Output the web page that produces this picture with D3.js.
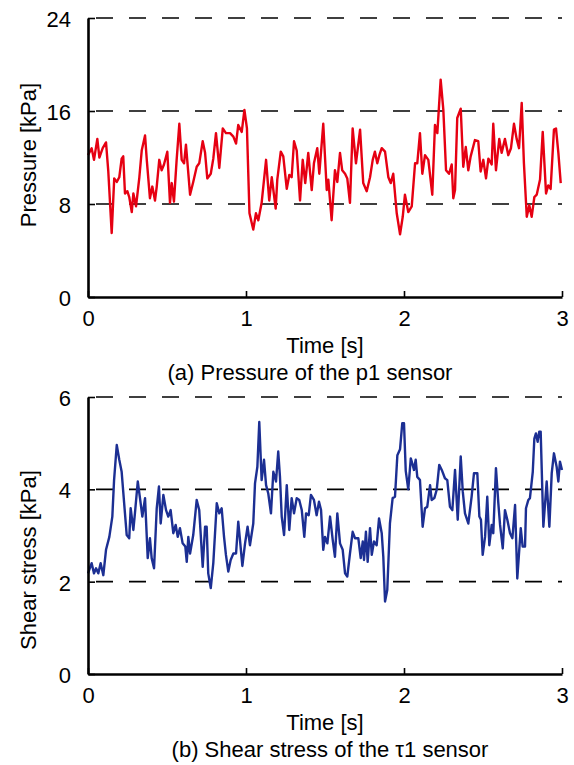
<!DOCTYPE html>
<html>
<head>
<meta charset="utf-8">
<script src="https://cdn.jsdelivr.net/npm/d3@7"></script>
<style>
  html, body { margin: 0; padding: 0; background: #fff; }
  text { font-family: "Liberation Sans", Arial, sans-serif; fill: #000; }
</style>
</head>
<body>
<svg id="chart" width="574" height="765"></svg>
<script>
// ---------- data ----------
const xTicks = [0, 1, 2, 3];
const pressureTicks = [0, 8, 16, 24];
const shearTicks = [0, 2, 4, 6];
const xTitle = "Time [s]";
const pressureTitle = "Pressure [kPa]";
const shearTitle = "Shear stress [kPa]";
const captionA = "(a) Pressure of the p1 sensor";
const captionB = "(b) Shear stress of the \u03c41 sensor";

// p1 pressure time series [s] / [kPa]
const pTime = [0.000,0.023,0.038,0.059,0.072,0.093,0.114,0.128,0.150,0.166,0.182,0.198,0.213,0.223,0.234,0.249,0.261,0.277,0.287,0.304,0.325,0.340,0.361,0.372,0.392,0.407,0.424,0.435,0.451,0.466,0.481,0.502,0.519,0.530,0.544,0.561,0.578,0.593,0.608,0.620,0.646,0.666,0.688,0.704,0.726,0.741,0.755,0.777,0.793,0.810,0.831,0.853,0.873,0.899,0.920,0.937,0.951,0.973,0.990,1.006,1.022,1.046,1.063,1.078,1.099,1.127,1.147,1.163,1.188,1.198,1.220,1.236,1.258,1.274,1.289,1.304,1.321,1.342,1.359,1.375,1.394,1.416,1.430,1.451,1.464,1.489,1.511,1.521,1.542,1.563,1.578,1.595,1.609,1.627,1.641,1.658,1.675,1.696,1.722,1.742,1.764,1.785,1.802,1.816,1.831,1.844,1.859,1.880,1.901,1.916,1.932,1.954,1.975,1.992,2.006,2.027,2.049,2.070,2.084,2.101,2.116,2.133,2.154,2.179,2.196,2.211,2.232,2.249,2.266,2.285,2.302,2.312,2.323,2.337,2.359,2.375,2.391,2.407,2.422,2.449,2.470,2.485,2.502,2.519,2.534,2.555,2.565,2.582,2.603,2.618,2.639,2.660,2.677,2.696,2.713,2.728,2.745,2.759,2.777,2.793,2.808,2.825,2.840,2.861,2.878,2.899,2.913,2.928,2.949,2.962,2.977,2.992];
const pValue = [12.2,12.8,11.8,13.6,12.0,12.8,13.3,10.9,5.5,10.2,9.9,10.3,11.9,12.1,8.9,9.1,8.6,7.3,8.9,7.8,10.3,12.6,13.9,11.8,8.5,9.5,8.3,9.5,11.8,10.9,11.4,12.5,8.1,9.8,8.2,11.8,14.9,11.8,11.5,13.1,8.8,9.9,11.2,11.5,13.4,12.4,10.2,10.6,11.9,14.1,11.1,14.5,14.1,14.1,13.8,13.2,14.8,14.2,16.1,14.5,7.2,5.8,7.2,6.6,8.1,11.8,8.3,10.3,7.6,10.1,12.5,12.1,9.3,10.5,10.3,13.4,12.6,8.3,11.8,9.8,12.4,9.2,11.5,12.8,10.6,14.9,9.2,10.1,6.6,10.9,9.9,12.4,10.9,10.6,10.2,8.1,14.5,11.5,14.4,9.8,9.1,10.3,11.8,12.5,11.5,12.2,12.8,12.5,10.3,9.8,10.6,7.2,5.4,6.9,8.8,7.3,7.8,11.5,11.5,14.1,10.6,12.2,11.8,8.8,14.8,14.1,18.7,16.1,10.9,10.6,11.4,8.5,9.2,15.4,16.2,11.2,12.9,10.9,12.1,13.5,13.4,10.8,11.8,10.2,11.9,11.4,14.9,10.9,13.6,12.4,13.6,12.2,12.8,14.9,13.6,12.8,16.7,11.5,6.9,7.9,6.9,8.6,8.8,10.1,14.2,8.9,9.6,9.3,14.4,14.5,12.4,9.8];

// tau1 shear stress time series [s] / [kPa]
const sTime = [0.000,0.023,0.038,0.051,0.065,0.080,0.097,0.114,0.135,0.154,0.165,0.182,0.198,0.213,0.234,0.245,0.261,0.270,0.287,0.297,0.315,0.329,0.344,0.361,0.378,0.392,0.403,0.418,0.435,0.449,0.460,0.477,0.494,0.508,0.523,0.540,0.555,0.568,0.582,0.599,0.616,0.625,0.635,0.646,0.666,0.688,0.704,0.726,0.741,0.751,0.761,0.777,0.793,0.815,0.831,0.846,0.861,0.873,0.888,0.903,0.920,0.937,0.951,0.962,0.977,0.994,1.010,1.025,1.046,1.057,1.072,1.084,1.099,1.114,1.127,1.141,1.158,1.173,1.190,1.204,1.215,1.226,1.241,1.258,1.274,1.289,1.304,1.321,1.337,1.353,1.369,1.380,1.397,1.411,1.430,1.447,1.462,1.475,1.489,1.500,1.515,1.532,1.549,1.563,1.578,1.595,1.612,1.627,1.641,1.658,1.675,1.690,1.711,1.726,1.739,1.747,1.759,1.770,1.785,1.796,1.810,1.827,1.842,1.859,1.869,1.880,1.894,1.911,1.928,1.943,1.958,1.975,1.989,2.000,2.011,2.027,2.043,2.055,2.063,2.074,2.084,2.101,2.118,2.133,2.147,2.165,2.175,2.192,2.207,2.223,2.239,2.259,2.274,2.291,2.306,2.323,2.340,2.359,2.372,2.386,2.407,2.428,2.443,2.464,2.477,2.487,2.498,2.513,2.527,2.540,2.555,2.565,2.582,2.597,2.608,2.625,2.639,2.654,2.671,2.686,2.703,2.717,2.739,2.751,2.766,2.772,2.787,2.797,2.815,2.825,2.835,2.846,2.856,2.865,2.882,2.903,2.920,2.935,2.949,2.966,2.977,2.987,3.000];
const sValue = [2.18,2.40,2.18,2.29,2.18,2.40,2.14,2.69,2.97,3.41,4.20,4.96,4.64,4.38,3.48,3.01,2.94,3.59,3.12,3.48,4.17,3.81,3.41,3.81,2.51,2.94,2.51,2.29,3.59,4.06,3.26,3.88,3.55,3.41,3.55,3.05,3.23,2.97,3.16,2.83,2.76,2.43,2.97,2.61,3.01,3.77,3.55,2.32,3.19,3.19,2.18,1.86,2.40,3.70,3.48,3.59,2.97,2.58,2.22,2.47,2.61,2.61,3.30,2.90,2.34,2.83,3.19,2.79,3.26,4.13,4.49,5.46,4.20,4.64,4.09,3.91,3.48,4.38,4.17,4.82,4.27,3.41,3.01,4.09,3.12,3.81,3.48,3.81,3.77,3.55,2.97,3.48,3.44,3.88,3.77,3.44,3.73,3.55,2.69,2.97,2.83,3.41,2.90,2.54,3.48,2.83,2.69,2.18,2.11,2.61,3.08,2.94,2.94,2.51,2.87,2.47,3.08,2.43,3.16,2.58,2.87,2.79,3.37,3.05,2.54,1.57,1.82,3.26,3.81,3.84,4.74,4.87,5.43,5.43,4.40,4.00,4.67,4.53,4.42,4.64,4.27,4.20,3.19,3.59,3.62,4.09,3.77,3.81,3.99,4.53,4.42,4.24,4.20,3.62,3.55,4.42,3.34,4.71,3.95,3.48,3.26,3.84,4.35,4.35,3.41,3.34,2.58,2.97,3.84,2.79,3.23,3.05,4.46,3.70,3.23,2.72,3.55,3.34,3.05,2.94,3.66,2.07,3.16,2.76,2.76,3.59,3.77,3.81,4.38,5.10,5.21,5.03,5.25,5.25,3.19,4.17,3.19,4.35,4.78,4.49,4.17,4.60,4.42];

// ---------- drawing ----------
const svg = d3.select("#chart");
const left = 88, right = 562;
const x = d3.scaleLinear().domain([0, 3]).range([left, right]);
const intFmt = d3.format("d");

function panel(cfg) {
  const g = svg.append("g");
  const y = d3.scaleLinear().domain(cfg.domain).range([cfg.bottom, cfg.top]);

  // dashed grid lines (not at 0)
  g.selectAll("line.grid").data(cfg.ticks.filter(d => d !== 0)).enter()
    .append("line")
    .attr("x1", left + 8).attr("x2", right)
    .attr("y1", d => y(d)).attr("y2", d => y(d))
    .attr("stroke", "#000").attr("stroke-width", 1.6)
    .attr("stroke-dasharray", "17,16");

  // data line
  const pts = cfg.t.map((t, i) => [t, cfg.v[i]]);
  g.append("path")
    .datum(pts)
    .attr("fill", "none")
    .attr("stroke", cfg.color)
    .attr("stroke-width", 2.4)
    .attr("stroke-linejoin", "round")
    .attr("d", d3.line().x(d => x(d[0])).y(d => y(d[1])));

  // axes
  const yAxis = d3.axisLeft(y).tickValues(cfg.ticks).tickFormat(intFmt)
    .tickSizeInner(-7).tickSizeOuter(0).tickPadding(17);
  const ya = g.append("g").attr("transform", `translate(${left},0)`).call(yAxis);
  const xAxis = d3.axisBottom(x).tickValues(xTicks).tickFormat(intFmt)
    .tickSizeInner(-6).tickSizeOuter(0).tickPadding(12);
  const xa = g.append("g").attr("transform", `translate(0,${cfg.bottom})`).call(xAxis);
  [ya, xa].forEach(a => {
    a.select(".domain").attr("stroke", "#000").attr("stroke-width", 2.6);
    a.selectAll(".tick line").attr("stroke", "#000").attr("stroke-width", 1.6);
    a.selectAll(".tick text").attr("font-size", 22).attr("font-family", "Liberation Sans, Arial, sans-serif").attr("fill", "#000");
  });
  ya.selectAll(".tick text").attr("dy", "0.38em");
  xa.selectAll(".tick text").attr("dy", "0.75em");

  // titles
  g.append("text").attr("x", (left + right) / 2).attr("y", cfg.bottom + 56)
    .attr("text-anchor", "middle").attr("font-size", 22).text(xTitle);
  g.append("text").attr("x", cfg.captionX).attr("y", cfg.bottom + 83)
    .attr("text-anchor", "middle").attr("font-size", 22).text(cfg.caption);
  g.append("text")
    .attr("transform", `translate(36,${cfg.titleY}) rotate(-90)`)
    .attr("text-anchor", "middle").attr("font-size", 22).text(cfg.title);
}

panel({ domain: [0, 24], ticks: pressureTicks, top: 18, bottom: 297, t: pTime, v: pValue,
        color: "#e60012", title: pressureTitle, titleY: 155, caption: captionA, captionX: 310 });
panel({ domain: [0, 6], ticks: shearTicks, top: 397, bottom: 674, t: sTime, v: sValue,
        color: "#1c2f93", title: shearTitle, titleY: 560, caption: captionB, captionX: 330 });
</script>
</body>
</html>
